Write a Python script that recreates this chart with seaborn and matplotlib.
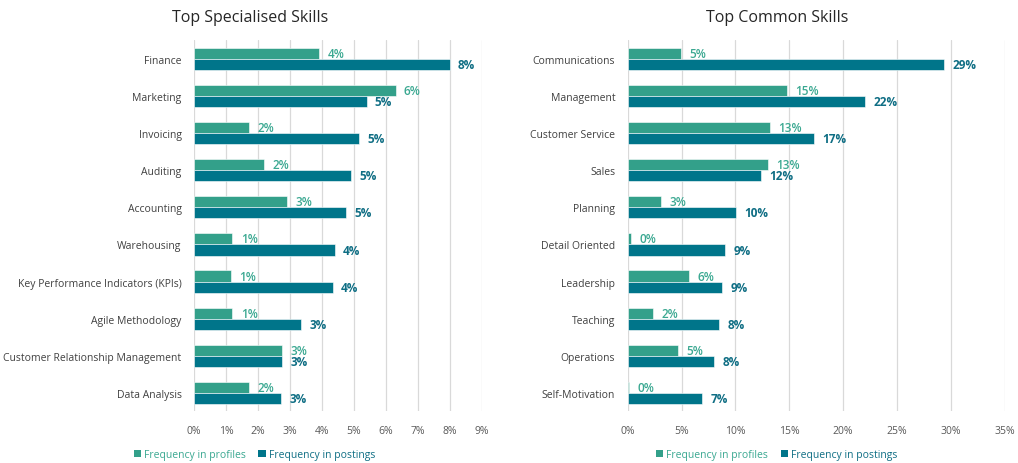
import pandas as pd
import matplotlib.pyplot as plt
import seaborn as sns
from matplotlib.patches import Patch
from matplotlib.ticker import FuncFormatter, MultipleLocator

# === Data (percent) ===
spec_skills = ["Finance", "Marketing", "Invoicing", "Auditing", "Accounting",
               "Warehousing", "Key Performance Indicators (KPIs)", "Agile Methodology",
               "Customer Relationship Management", "Data Analysis"]
spec_profiles = [3.91, 6.30, 1.71, 2.18, 2.91, 1.20, 1.16, 1.20, 2.76, 1.73]
spec_postings = [7.99, 5.39, 5.15, 4.92, 4.75, 4.39, 4.33, 3.35, 2.76, 2.73]

common_skills = ["Communications", "Management", "Customer Service", "Sales", "Planning",
                 "Detail Oriented", "Leadership", "Teaching", "Operations", "Self-Motivation"]
common_profiles = [4.92, 14.77, 13.22, 13.03, 3.07, 0.31, 5.73, 2.35, 4.67, 0.15]
common_postings = [29.41, 22.04, 17.34, 12.35, 10.06, 9.07, 8.76, 8.48, 8.05, 6.93]

series_names = ["Frequency in profiles", "Frequency in postings"]
bar_colors = ["#33a08a", "#00758a"]
label_colors = ["#3aa891", "#0f6e84"]

sns.set_theme(style="white")
plt.rcParams['font.family'] = ['Open Sans', 'DejaVu Sans']


def long_df(skills, profiles, postings):
    return pd.DataFrame({
        "skill": skills * 2,
        "value": profiles + postings,
        "series": [series_names[0]] * len(skills) + [series_names[1]] * len(skills),
    })


def draw(ax, df, xmax, step):
    sns.barplot(data=df, y="skill", x="value", hue="series", orient="h",
                palette=bar_colors, width=0.6, ax=ax, legend=False,
                saturation=1, edgecolor="white", linewidth=0.4)
    for i, cont in enumerate(ax.containers):
        ax.bar_label(cont, labels=[f"{v:.0f}%" for v in cont.datavalues],
                     padding=6, fontsize=8.5, color=label_colors[i],
                     fontweight="semibold" if i == 0 else "bold")
    ax.set_xlim(0, xmax)
    ax.xaxis.set_major_locator(MultipleLocator(step))
    ax.xaxis.set_major_formatter(FuncFormatter(lambda x, p: f"{x:.0f}%"))
    ax.grid(axis="x", color="#d9d9d9", linewidth=0.9)
    ax.set_axisbelow(True)
    for s in ax.spines.values():
        s.set_visible(False)
    ax.set_xlabel("")
    ax.set_ylabel("")
    ax.tick_params(axis="x", labelsize=7.5, colors="#595959", length=0, pad=10)
    ax.tick_params(axis="y", labelsize=7.5, colors="#404040", length=0, pad=9)


fig = plt.figure(figsize=(10.18, 4.64), dpi=100)
ax1 = fig.add_axes([0.1906, 0.111, 0.2829, 0.80])
ax2 = fig.add_axes([0.6166, 0.111, 0.3702, 0.80])

draw(ax1, long_df(spec_skills, spec_profiles, spec_postings), 9, 1)
draw(ax2, long_df(common_skills, common_profiles, common_postings), 35, 5)

fig.text(0.246, 0.962, "Top Specialised Skills", ha="center", va="center",
         fontsize=11.5, color="#262626")
fig.text(0.763, 0.962, "Top Common Skills", ha="center", va="center",
         fontsize=11.5, color="#262626")

handles = [Patch(facecolor=c, edgecolor="none") for c in bar_colors]
for cx in (0.25, 0.763):
    leg = fig.legend(handles, series_names, loc="center", bbox_to_anchor=(cx, 0.018),
                     ncol=2, frameon=False, fontsize=7.5, handlelength=0.7,
                     handleheight=0.7, handletextpad=0.3, columnspacing=1.2)
    for t, c in zip(leg.get_texts(), label_colors):
        t.set_color(c)

plt.savefig("out.png", dpi=100)
